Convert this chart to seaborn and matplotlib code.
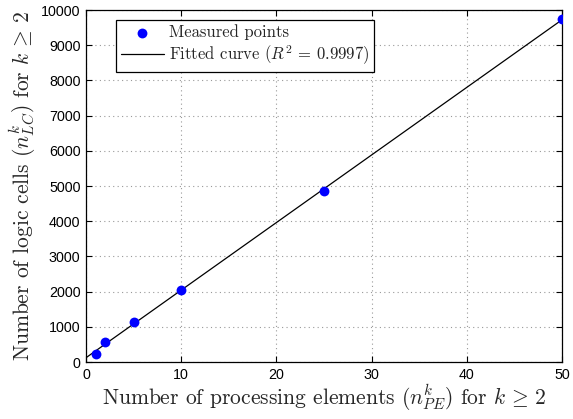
import numpy as np
import pandas as pd
import matplotlib
matplotlib.use("Agg")
import matplotlib.pyplot as plt
import seaborn as sns

# Data
n_pe = [1, 2, 5, 10, 25, 50]
n_lc = [220, 565, 1145, 2045, 4870, 9740]
x_ticks = [0, 10, 20, 30, 40, 50]
y_ticks = [0, 1000, 2000, 3000, 4000, 5000, 6000, 7000, 8000, 9000, 10000]

sns.set_theme(style="ticks")
plt.rcParams["mathtext.fontset"] = "cm"
plt.rcParams["font.family"] = ["Liberation Sans", "DejaVu Sans"]

df = pd.DataFrame({"x": n_pe, "y": n_lc})
slope, intercept = np.polyfit(df["x"], df["y"], 1)
xf = np.linspace(0, 50, 200)
fit = pd.DataFrame({"x": xf, "y": slope * xf + intercept})

fit_label = r"Fitted curve ($R^2 \,=\, 0.9997$)"

fig = plt.figure(figsize=(5.73, 4.19), dpi=100)
ax = fig.add_axes([86/573, 1 - 362/419, (562-86)/573, (362-10)/419])

sns.lineplot(data=fit, x="x", y="y", ax=ax, color="black", linewidth=0.9,
             label=fit_label)
sns.scatterplot(data=df, x="x", y="y", ax=ax, color=(0, 0, 1), s=50,
                edgecolor=(0, 0, 1), linewidth=0, label="Measured points", zorder=3)

ax.set_xlim(0, 50)
ax.set_ylim(0, 10000)
ax.set_xticks(x_ticks)
ax.set_yticks(y_ticks)
ax.tick_params(direction="in", top=True, right=True, length=4, width=0.8,
               labelsize=10.3, colors="black", pad=4)
for s in ax.spines.values():
    s.set_linewidth(0.9)
    s.set_color("black")
ax.grid(True, linestyle=(0, (1, 3)), color="#999999", linewidth=0.8)
ax.set_axisbelow(True)

ax.set_xlabel(r"Number of processing elements ($n_{PE}^k$) for $k \,\geq\, 2$",
              fontsize=15.5, family="cmr10", labelpad=1)
ax.set_ylabel(r"Number of logic cells ($n_{LC}^k$) for $k \,\geq\, 2$",
              fontsize=15.5, family="cmr10", labelpad=2)

handles, labels = ax.get_legend_handles_labels()
order = [labels.index("Measured points"), labels.index(fit_label)]
leg = ax.legend([handles[i] for i in order], [labels[i] for i in order],
                loc="upper left", bbox_to_anchor=(0.063, 0.972), borderaxespad=0,
                prop={"family": "cmr10", "size": 12}, frameon=True, fancybox=False,
                edgecolor="black", framealpha=1, borderpad=0.28, handlelength=2.6,
                handletextpad=0.3, labelspacing=0.2)
leg.get_frame().set_linewidth(0.9)

fig.savefig("out.png", dpi=100)
